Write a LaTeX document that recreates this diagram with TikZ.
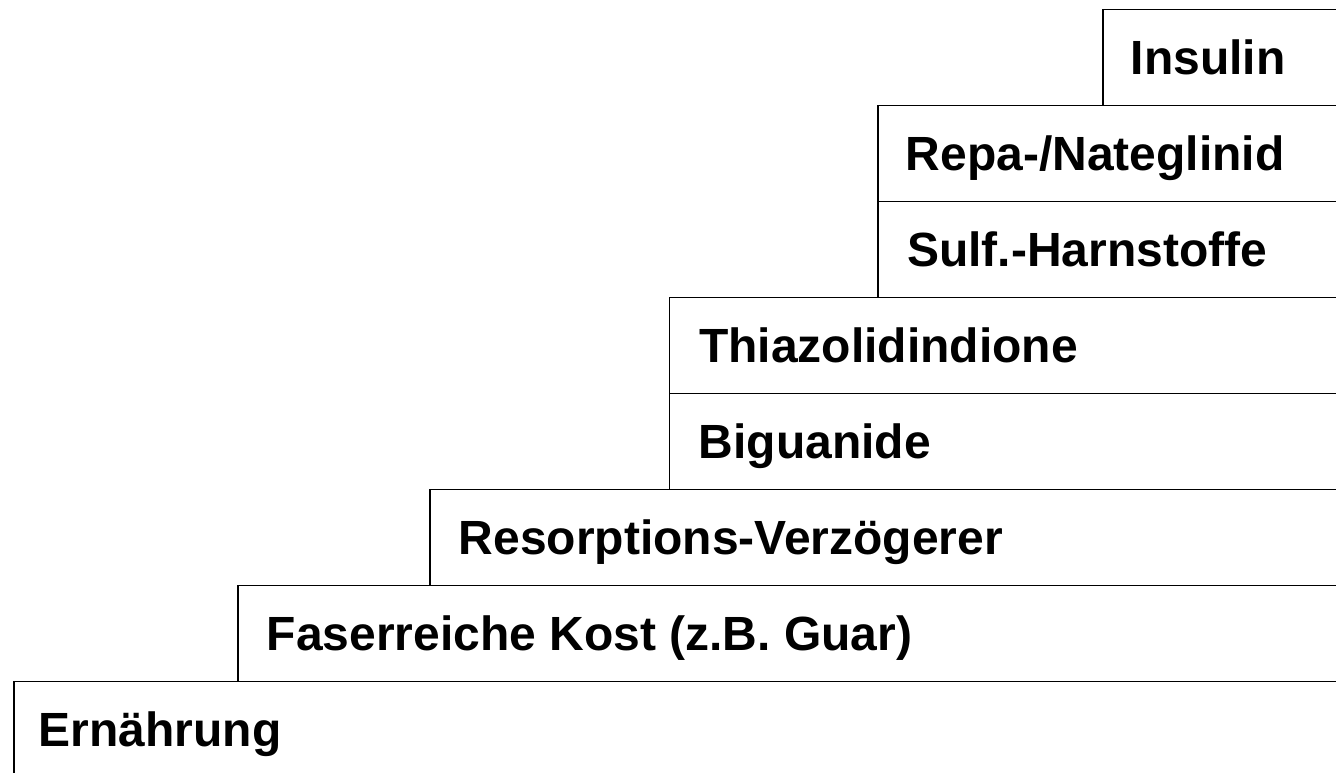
\documentclass[tikz,border=0pt]{standalone}
\usepackage{fontspec}
\setmainfont{Liberation Sans}
\begin{document}
\begin{tikzpicture}[x=1pt,y=-1pt,
  box/.style={draw, line width=1.8pt, rectangle, inner sep=0pt, anchor=north west, minimum height=96pt},
  lbl/.style={inner sep=0pt, font=\bfseries\fontsize{48}{58}\selectfont, text height=34pt, text depth=0pt, anchor=west}]
\useasboundingbox (0,0) rectangle (1336,772);
\clip (0,0) rectangle (1336,772);
% boxes (right edges run off the picture)
\node[box, minimum width=1337pt] (bE) at (13,680.5) {};
\node[box, minimum width=1113pt] (bF) at (237,584.5) {};
\node[box, minimum width=921pt] (bRe) at (429,488.5) {};
\node[box, minimum width=681.5pt] (bB) at (668.5,392.5) {};
\node[box, minimum width=681.5pt] (bT) at (668.5,296.5) {};
\node[box, minimum width=473pt] (bS) at (877,200.5) {};
\node[box, minimum width=473pt] (bR) at (877,104.5) {};
\node[box, minimum width=248pt] (bI) at (1102,8.5) {};
% labels
\node[lbl] (tE) at ([xshift=25.5pt]bE.west) {Ernährung};
\node[lbl] (tF) at ([xshift=29.5pt]bF.west) {Faserreiche Kost (z.B. Guar)};
\node[lbl] (tRe) at ([xshift=29.5pt]bRe.west) {Resorptions-Verzögerer};
\node[lbl] (tB) at ([xshift=30pt]bB.west) {Biguanide};
\node[lbl] (tT) at ([xshift=30.5pt]bT.west) {Thiazolidindione};
\node[lbl] (tS) at ([xshift=30pt]bS.west) {Sulf.-Harnstoffe};
\node[lbl] (tR) at ([xshift=28.5pt]bR.west) {Repa-/Nateglinid};
\node[lbl] (tI) at ([xshift=28.5pt]bI.west) {Insulin};
\end{tikzpicture}
\end{document}
